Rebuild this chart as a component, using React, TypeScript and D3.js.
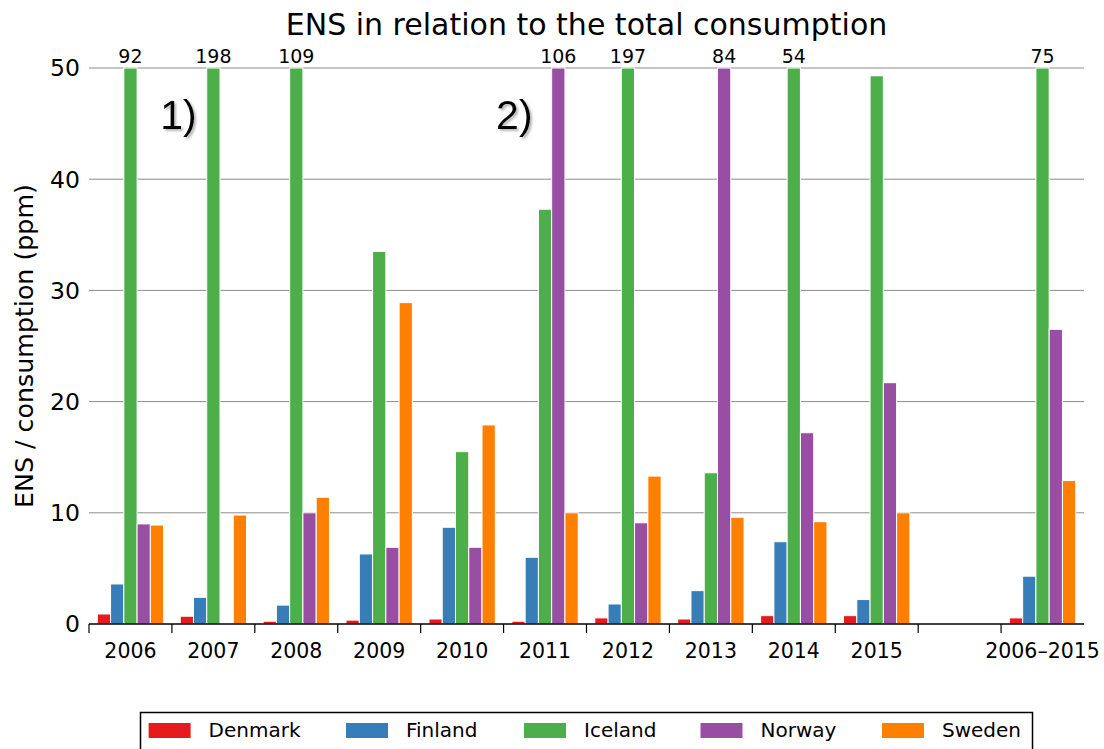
import React from "react";
import * as d3 from "d3";

const categories = ["2006", "2007", "2008", "2009", "2010", "2011", "2012", "2013", "2014", "2015", "", "2006–2015"];
const seriesNames = ["Denmark", "Finland", "Iceland", "Norway", "Sweden"];
const colors = ["#e41a1c", "#377eb8", "#4daf4a", "#984ea3", "#ff7f00"];

const denmark = [0.9, 0.7, 0.25, 0.35, 0.45, 0.25, 0.55, 0.45, 0.75, 0.75, null, 0.55];
const finland = [3.6, 2.4, 1.7, 6.3, 8.7, 6.0, 1.8, 3.0, 7.4, 2.2, null, 4.3];
const iceland = [92, 198, 109, 33.5, 15.5, 37.3, 197, 13.6, 54, 49.3, null, 75];
const norway = [9.0, null, 10.0, 6.9, 6.9, 106, 9.1, 84, 17.2, 21.7, null, 26.5];
const sweden = [8.9, 9.8, 11.4, 28.9, 17.9, 10.0, 13.3, 9.6, 9.2, 10.0, null, 12.9];
const seriesValues = [denmark, finland, iceland, norway, sweden];

const yTicks = [0, 10, 20, 30, 40, 50];
const title = "ENS in relation to the total consumption";
const yLabel = "ENS / consumption (ppm)";
const annotations = [
  { text: "1)", cat: "2007", dx: -0.14 },
  { text: "2)", cat: "2011", dx: -0.09 },
];

const W = 1104;
const H = 749;
const left = 89;
const right = 1084;
const top = 68;
const bottom = 624;
const yMax = 50;

export default function App() {
  const x = d3.scaleBand<string>().domain(categories.map((c, i) => i + "|" + c)).range([left, right]).paddingInner(0).paddingOuter(0);
  const bw = x.bandwidth();
  const inner = d3.scaleBand<string>().domain(seriesNames).range([0.1 * bw, 0.9 * bw]).padding(0);
  const y = d3.scaleLinear().domain([0, yMax]).range([bottom, top]);
  const keys = x.domain();

  const legendPatchX = [148.6, 346, 524, 700.5, 882];

  return (
    <svg width={W} height={H} style={{ position: "absolute", left: 0, top: 0, background: "#fff" }} fontFamily="DejaVu Sans">
      <defs>
        <filter id="shadow" x="-20%" y="-20%" width="160%" height="160%">
          <feDropShadow dx="2" dy="2" stdDeviation="1.2" floodColor="#888" floodOpacity="0.6" />
        </filter>
      </defs>
      <rect x={0} y={0} width={W} height={H} fill="#fff" />
      {yTicks.filter((t) => t > 0).map((t) => (
        <line key={t} x1={left} x2={right} y1={y(t)} y2={y(t)} stroke="#8c8c8c" strokeWidth={1} />
      ))}
      {yTicks.map((t) => (
        <text key={t} x={80} y={y(t)} dy="0.36em" textAnchor="end" fontSize={23.5} fill="#000">{t}</text>
      ))}
      {seriesValues.map((vals, si) =>
        vals.map((v, ci) => {
          if (v === null || v === undefined) return null;
          const x0 = (x(keys[ci]) as number) + (inner(seriesNames[si]) as number);
          const vv = Math.min(v, yMax);
          return (
            <rect key={si + "-" + ci} x={x0} y={y(vv)} width={inner.bandwidth()} height={y(0) - y(vv)}
              fill={colors[si]} stroke="#fff" strokeWidth={1} />
          );
        })
      )}
      {seriesValues.map((vals, si) =>
        vals.map((v, ci) => {
          if (v === null || v === undefined || v <= yMax) return null;
          const xc = (x(keys[ci]) as number) + (inner(seriesNames[si]) as number) + inner.bandwidth() / 2;
          return (
            <text key={"l" + si + "-" + ci} x={xc} y={62.5} textAnchor="middle" fontSize={19} fill="#000">{v}</text>
          );
        })
      )}
      <line x1={left} x2={right} y1={bottom} y2={bottom} stroke="#000" strokeWidth={1.5} />
      {keys.map((k, i) => (
        <line key={"t" + i} x1={(x(k) as number)} x2={(x(k) as number)} y1={bottom} y2={bottom + 9} stroke="#000" strokeWidth={1.2} />
      ))}
      {keys.map((k, i) => (
        <text key={"xl" + i} x={(x(k) as number) + bw / 2} y={658} textAnchor="middle" fontSize={20.5} fill="#000">{categories[i]}</text>
      ))}
      <text x={(left + right) / 2} y={35} textAnchor="middle" fontSize={30} fill="#000">{title}</text>
      <text transform={`translate(33,${(top + bottom) / 2}) rotate(-90)`} textAnchor="middle" fontSize={25.3} fill="#000">{yLabel}</text>
      {annotations.map((a) => {
        const idx = categories.indexOf(a.cat);
        const xa = (x(keys[idx]) as number) + a.dx * bw;
        return (
          <text key={a.text} x={xa} y={129} fontFamily="Liberation Sans" fontSize={41} fill="#000" filter="url(#shadow)">{a.text}</text>
        );
      })}
      <rect x={140.5} y={712.5} width={892} height={45} fill="#fff" stroke="#000" strokeWidth={1.5} />
      {seriesNames.map((n, i) => (
        <g key={n}>
          <rect x={legendPatchX[i]} y={723} width={42} height={15} fill={colors[i]} />
          <text x={legendPatchX[i] + 60} y={737} fontSize={20} fill="#000">{n}</text>
        </g>
      ))}
    </svg>
  );
}
